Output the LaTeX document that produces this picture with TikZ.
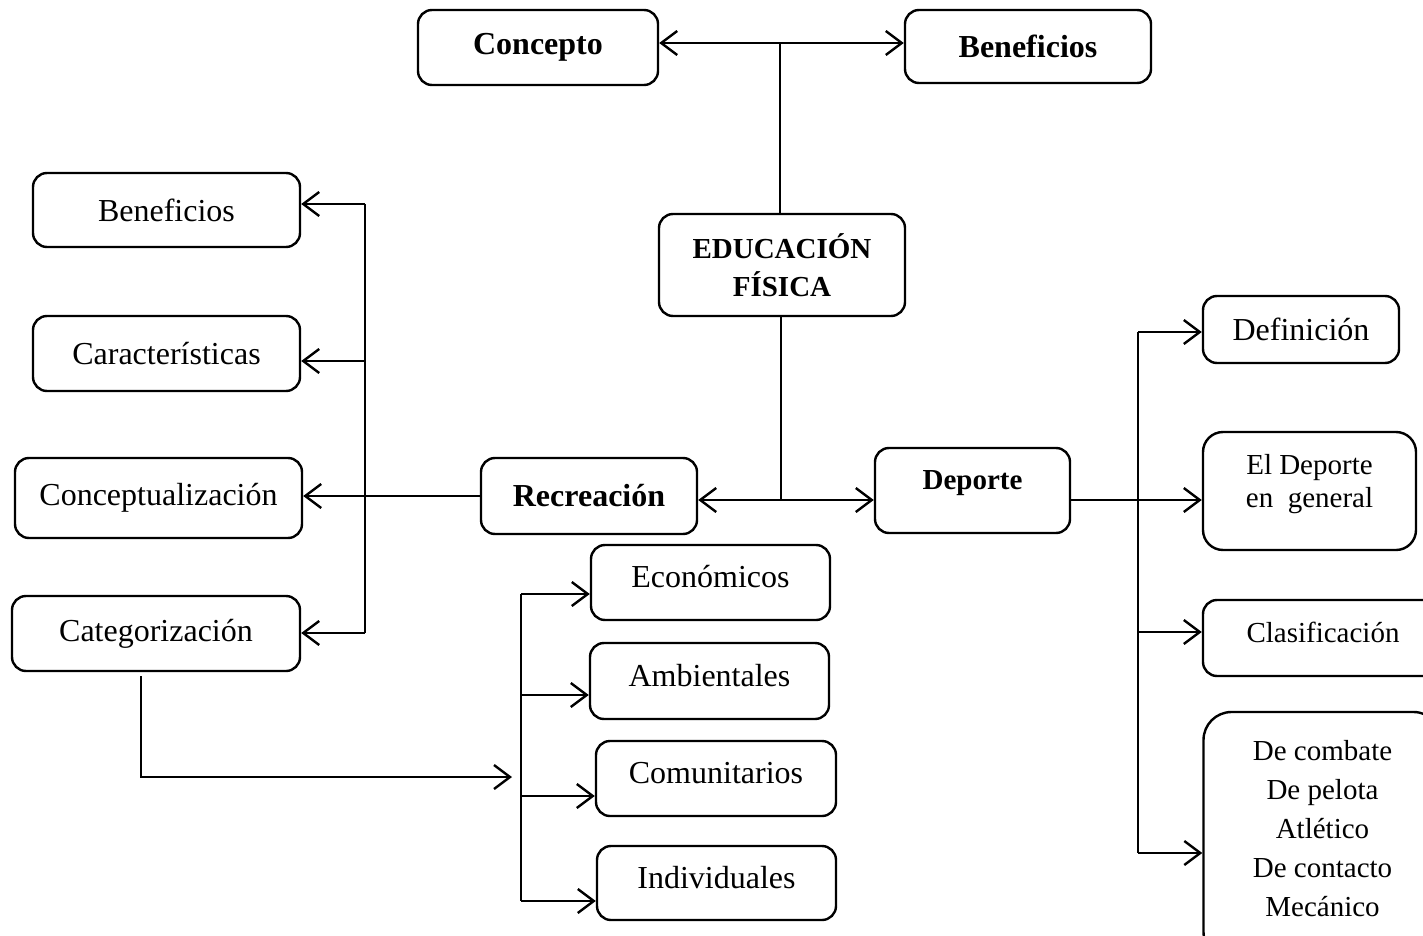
\documentclass[tikz,border=0pt]{standalone}
\usepackage{fontspec}
\setmainfont{Liberation Serif}
\usetikzlibrary{arrows.meta}

\begin{document}
\begin{tikzpicture}[x=0.5pt,y=-0.5pt,
  box/.style={draw, line width=1.2pt, rounded corners=7pt, align=center,
              inner sep=0pt, font=\fontsize{16}{19}\selectfont},
  boldbox/.style={box, font=\fontsize{16}{19}\selectfont\bfseries},
  link/.style={line width=1.2pt},
  tip/.tip={Straight Barb[length=8pt,width=12pt,line width=1.2pt]},
  arr/.style={link, -tip},
  darr/.style={link, tip-tip}]
\useasboundingbox (0,0) rectangle (1423,936);
\clip (0,0) rectangle (1423,936);
\fill[white] (0,0) rectangle (1423,936);

% top row
\node[boldbox, minimum width=120pt, minimum height=37.5pt] (concepto) at (538,47.5) {Concepto};
\node[boldbox, minimum width=123pt, minimum height=36.5pt] (benTop) at (1028,46.5) {Beneficios};

% central node
\node[boldbox, minimum width=123pt, minimum height=51pt,
      font=\fontsize{14.5}{19}\selectfont\bfseries] (edu) at (782,265) {EDUCACIÓN\\FÍSICA};

% second level
\node[boldbox, minimum width=108pt, minimum height=38pt] (recre) at (589,496) {Recreación};
\node[boldbox, minimum width=97.5pt, minimum height=42.5pt, text depth=10pt,
      font=\fontsize{14.5}{18}\selectfont\bfseries] (deporte) at (972.5,490.5) {Deporte};

% left column
\node[box, minimum width=133.5pt, minimum height=37pt] (benL) at (166.5,210) {Beneficios};
\node[box, minimum width=133.5pt, minimum height=37.5pt] (carac) at (166.5,353.5) {Características};
\node[box, minimum width=143.5pt, minimum height=40pt] (concep) at (158.5,498) {Conceptualización};
\node[box, minimum width=144pt, minimum height=37.5pt] (categ) at (156,633.5) {Categorización};

% categories
\node[box, minimum width=119.5pt, minimum height=37.5pt, text depth=6pt] (econ) at (710.5,582.5) {Económicos};
\node[box, minimum width=119.5pt, minimum height=38pt, text depth=6pt] (amb) at (709.5,681) {Ambientales};
\node[box, minimum width=120pt, minimum height=37.5pt, text depth=6pt] (comu) at (716,778.5) {Comunitarios};
\node[box, minimum width=119.5pt, minimum height=37pt, text depth=6pt] (indiv) at (716.5,883) {Individuales};

% right column
\node[box, minimum width=98pt, minimum height=33.5pt] (defin) at (1301,329.5) {Definición};
\node[box, minimum width=106.5pt, minimum height=59pt, text depth=10pt, rounded corners=10pt,
      font=\fontsize{14.5}{16.5}\selectfont] (eldep) at (1309.5,491)
      {El Deporte\\en\ \ general};
\node[box, minimum width=120pt, minimum height=38pt, text depth=6pt,
      font=\fontsize{14.5}{18}\selectfont] (clasif) at (1323,638) {Clasificación};
\node[box, minimum width=119pt, minimum height=124pt, text depth=8pt, rounded corners=14pt,
      font=\fontsize{14.5}{19.5}\selectfont] (combate) at (1322.5,836)
      {De combate\\De pelota\\Atlético\\De contacto\\Mecánico};

% junction points
\coordinate (jtop) at (780,43);
\coordinate (jmid) at (781,500);
\coordinate (r1) at (1138,332);
\coordinate (r3) at (1138,632);
\coordinate (r4) at (1138,853);
\coordinate (l1) at (365,204);
\coordinate (l2) at (365,361);
\coordinate (l4) at (365,633);
\coordinate (cb) at (141,777);
\coordinate (ce) at (512,777);
\coordinate (m1) at (521,594);
\coordinate (m2) at (521,695);
\coordinate (m3) at (521,796);
\coordinate (m4) at (521,901);

% top links
\draw[darr] (concepto.east |- jtop) -- (benTop.west |- jtop);
\draw[link] (edu.north -| jtop) -- (jtop);

% centre to second level
\draw[link] (edu.south -| jmid) -- (jmid);
\draw[darr] (recre.east |- jmid) -- (deporte.west |- jmid);

% deporte branches
\draw[arr] (deporte.east |- jmid) -- (eldep.west |- jmid);
\draw[link] (r1) -- (r4);
\draw[arr] (r1) -- (r1 -| defin.west);
\draw[arr] (r3) -- (r3 -| clasif.west);
\draw[arr] (r4) -- (r4 -| combate.west);

% recreacion branches
\draw[arr] (recre.west) -- (recre.west -| concep.east);
\draw[link] (l1) -- (l4);
\draw[arr] (l1) -- (l1 -| benL.east);
\draw[arr] (l2) -- (l2 -| carac.east);
\draw[arr] (l4) -- (l4 -| categ.east);

% categorizacion to categories
\draw[arr] ([yshift=-2pt]categ.south -| cb) -- (cb) -- (ce);
\draw[link] (m1) -- (m4);
\draw[arr] (m1) -- (m1 -| econ.west);
\draw[arr] (m2) -- (m2 -| amb.west);
\draw[arr] (m3) -- (m3 -| comu.west);
\draw[arr] (m4) -- (m4 -| indiv.west);
\end{tikzpicture}
\end{document}
